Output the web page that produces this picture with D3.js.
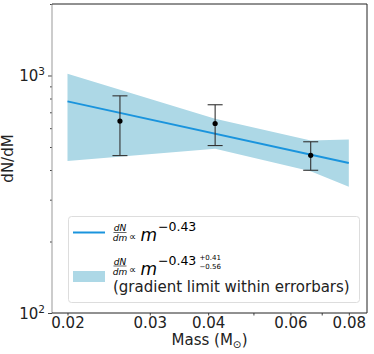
<!DOCTYPE html>
<html>
<head>
<meta charset="utf-8">
<script src="https://cdn.jsdelivr.net/npm/d3@7"></script>
<style>
  body { margin: 0; background: #fff; }
  svg { font-family: "DejaVu Sans", sans-serif; }
</style>
</head>
<body>
<div id="chart"></div>
<script>
// Data
const masses = [0.0259, 0.0414, 0.0663];
const values = [643, 628, 461];
const errLow = [460, 507, 399];
const errHigh = [821, 753, 526];

// fitted power law (dN/dm ∝ m^-0.43), end points of the drawn line
const fitMass = [0.02, 0.08];
const fitValue = [778, 428];

// shaded gradient-limit band
const bandMass = [0.02, 0.0414, 0.0663, 0.08];
const bandUpper = [1016, 658, 533, 538];
const bandLower = [436, 492, 395, 340];

const xTicks = [0.02, 0.03, 0.04, 0.05, 0.06, 0.07, 0.08];
const xTickLabels = ["0.02", "0.03", "0.04", "", "0.06", "", "0.08"];
const yMajor = [100, 1000];
const yMinor = [200, 300, 400, 500, 600, 700, 800, 900, 2000];

const margin = { top: 4, right: 7, bottom: 41, left: 52 };
const totalW = 374, totalH = 354;
const width = totalW - margin.left - margin.right;
const height = totalH - margin.top - margin.bottom;

const svg = d3.select("#chart")
    .append("svg")
    .attr("width", totalW)
    .attr("height", totalH)
    .append("g")
    .attr("transform", `translate(${margin.left},${margin.top})`);

const x = d3.scaleLog().domain([0.01853, 0.0875]).range([0, width]);
const y = d3.scaleLog().domain([100, 2000]).range([height, 0]);

// band
const band = d3.area()
    .x((d, i) => x(bandMass[i]))
    .y0((d, i) => y(bandLower[i]))
    .y1((d, i) => y(bandUpper[i]));
svg.append("path")
    .datum(bandMass)
    .attr("fill", "#add8e6")
    .attr("d", band);

// fit line
const line = d3.line()
    .x((d, i) => x(fitMass[i]))
    .y((d, i) => y(fitValue[i]));
svg.append("path")
    .datum(fitMass)
    .attr("fill", "none")
    .attr("stroke", "#1a94dd")
    .attr("stroke-width", 2)
    .attr("d", line);

// error bars
const eb = svg.append("g").attr("stroke", "#333").attr("stroke-width", 1.1);
masses.forEach((m, i) => {
    const cx = x(m);
    eb.append("line").attr("x1", cx).attr("x2", cx)
        .attr("y1", y(errLow[i])).attr("y2", y(errHigh[i]));
    [errLow[i], errHigh[i]].forEach(v => {
        eb.append("line").attr("x1", cx - 7.5).attr("x2", cx + 7.5)
            .attr("y1", y(v)).attr("y2", y(v));
    });
});
svg.append("g").selectAll("circle")
    .data(masses)
    .join("circle")
    .attr("cx", d => x(d))
    .attr("cy", (d, i) => y(values[i]))
    .attr("r", 2.6)
    .attr("fill", "#000");

// axes
const xAxis = svg.append("g")
    .attr("transform", `translate(0,${height})`)
    .call(d3.axisBottom(x).tickValues(xTicks)
        .tickFormat((d, i) => xTickLabels[i]).tickSize(2.5).tickPadding(2));
svg.append("g")
    .call(d3.axisLeft(y).tickValues(yMajor).tickFormat("").tickSize(4));
svg.append("g")
    .call(d3.axisLeft(y).tickValues(yMinor).tickFormat("").tickSize(2));

xAxis.selectAll("text").attr("font-size", 15).attr("fill", "#222")
    .attr("font-family", "DejaVu Sans");
svg.selectAll(".domain").remove();
svg.selectAll(".tick line").attr("stroke", "#444");

// y major labels 10^2, 10^3
yMajor.forEach(v => {
    const t = svg.append("text")
        .attr("x", -7)
        .attr("y", y(v) + 5.5)
        .attr("text-anchor", "end")
        .attr("font-size", 15)
        .attr("fill", "#222");
    t.append("tspan").text("10");
    t.append("tspan").attr("dy", -6).attr("font-size", 10.5).text(String(Math.log10(v)));
});

// frame
svg.append("line").attr("x1", 0).attr("x2", 0).attr("y1", 0).attr("y2", height)
    .attr("stroke", "#999").attr("stroke-width", 1);
svg.append("line").attr("x1", 0).attr("x2", width).attr("y1", height).attr("y2", height)
    .attr("stroke", "#222").attr("stroke-width", 1);
svg.append("line").attr("x1", 0).attr("x2", width).attr("y1", 0).attr("y2", 0)
    .attr("stroke", "#222").attr("stroke-width", 1);
svg.append("line").attr("x1", width).attr("x2", width).attr("y1", 0).attr("y2", height)
    .attr("stroke", "#222").attr("stroke-width", 1);

// axis labels
svg.append("text")
    .attr("x", width / 2)
    .attr("y", height + 32)
    .attr("text-anchor", "middle")
    .attr("font-size", 15)
    .attr("fill", "#222")
    .call(t => {
        t.append("tspan").text("Mass (M");
        t.append("tspan").attr("dy", 3).attr("font-size", 10.5).text("\u2299");
        t.append("tspan").attr("dy", -3).text(")");
    });
svg.append("text")
    .attr("transform", `translate(${-39},${height / 2})rotate(-90)`)
    .attr("text-anchor", "middle")
    .attr("font-size", 15)
    .attr("fill", "#222")
    .text("dN/dM");

// legend
const lg = d3.select("svg").append("g");
lg.append("rect")
    .attr("x", 68.5).attr("y", 216.5)
    .attr("width", 291).attr("height", 86)
    .attr("rx", 3)
    .attr("fill", "rgba(255,255,255,0.85)")
    .attr("stroke", "#ddd");

lg.append("line")
    .attr("x1", 73).attr("x2", 105).attr("y1", 232.5).attr("y2", 232.5)
    .attr("stroke", "#1a94dd").attr("stroke-width", 2);
lg.append("rect")
    .attr("x", 73).attr("y", 271).attr("width", 32).attr("height", 11)
    .attr("fill", "#add8e6");

function fraction(g, cx, barY) {
    g.append("text").attr("x", cx).attr("y", barY - 1.5)
        .attr("text-anchor", "middle").attr("font-size", 9)
        .attr("font-style", "italic").text("dN");
    g.append("line").attr("x1", cx - 6.5).attr("x2", cx + 6.5)
        .attr("y1", barY).attr("y2", barY).attr("stroke", "#000").attr("stroke-width", 0.6);
    g.append("text").attr("x", cx).attr("y", barY + 8.5)
        .attr("text-anchor", "middle").attr("font-size", 9)
        .attr("font-style", "italic").text("dm");
}

function powerText(g, baseY) {
    g.append("text").attr("x", 129).attr("y", baseY - 1.5)
        .attr("font-size", 10).text("\u221d");
    g.append("text").attr("x", 140.5).attr("y", baseY)
        .attr("font-size", 17).attr("font-style", "italic").text("m");
}

fraction(lg, 120, 232.5);
powerText(lg, 241);
lg.append("text").attr("x", 158).attr("y", 231)
    .attr("font-size", 12.5).text("\u22120.43");

fraction(lg, 120, 266);
powerText(lg, 274.5);
lg.append("text").attr("x", 158).attr("y", 264.5)
    .attr("font-size", 12.5).text("\u22120.43");
lg.append("text").attr("x", 199.5).attr("y", 260)
    .attr("font-size", 7).text("+0.41");
lg.append("text").attr("x", 199.5).attr("y", 269)
    .attr("font-size", 7).text("\u22120.56");
lg.append("text").attr("x", 113).attr("y", 292)
    .attr("font-size", 15).attr("fill", "#222")
    .text("(gradient limit within errorbars)");
</script>
</body>
</html>
